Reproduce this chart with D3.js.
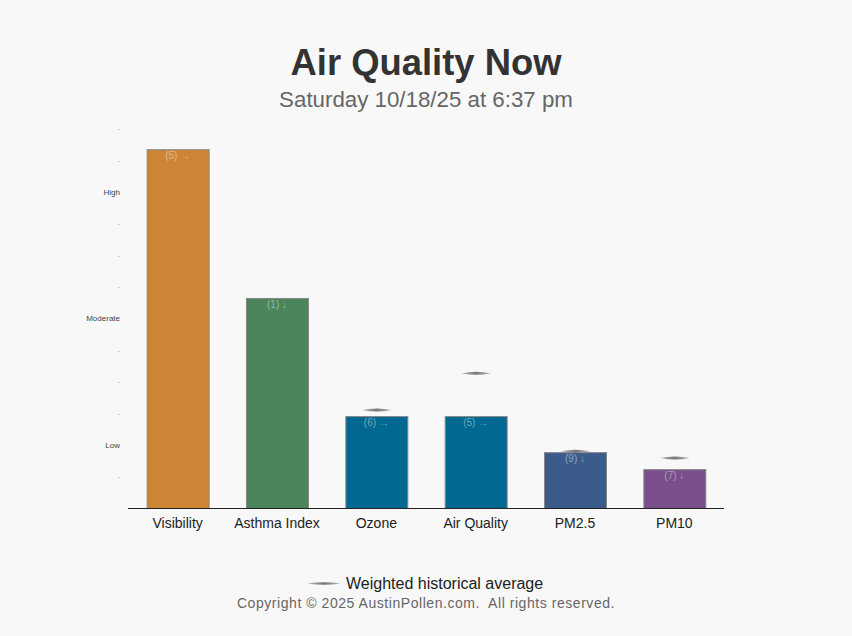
<!DOCTYPE html>
<html><head><meta charset="utf-8">
<script src="https://cdn.jsdelivr.net/npm/d3@7"></script>
<style>
body{margin:0;background:#f8f8f8;font-family:"Liberation Sans",Arial,sans-serif;}
</style></head>
<body>
<svg id="chart" width="852" height="636"></svg>
<script>
const categories = ["Visibility","Asthma Index","Ozone","Air Quality","PM2.5","PM10"];
const values = [11.36, 6.65, 2.91, 2.91, 1.77, 1.23];
const historical = [null, null, 3.10, 4.27, 1.80, 1.58];
const barLabels = ["(5) →","(1) ↓","(6) →","(5) →","(9) ↓","(7) ↓"];
const colors = ["#cd8535","#4b855c","#006891","#006891","#3b5c8a","#7a4e8a"];
const tickValues = [1,2,3,4,5,6,7,8,9,10,11,12];
const tickLabels = {2:"Low",6:"Moderate",10:"High"};

const svg = d3.select("#chart");
const W = 852;
svg.append("rect").attr("width",852).attr("height",636).attr("fill","#f8f8f8");

svg.append("text").attr("x",W/2).attr("y",75).attr("text-anchor","middle")
  .attr("font-size",36.4).attr("font-weight","bold").attr("fill","#333").text("Air Quality Now");
svg.append("text").attr("x",W/2).attr("y",107).attr("text-anchor","middle")
  .attr("font-size",22.3).attr("fill","#666").text("Saturday 10/18/25 at 6:37 pm");

const x = d3.scaleBand().domain(categories).range([128,724]).paddingInner(0.376).paddingOuter(0.188);
const y = d3.scaleLinear().domain([0,12]).range([508,129]);

// y axis labels
const yg = svg.append("g");
yg.selectAll("text").data(tickValues).join("text")
  .attr("x",120).attr("y",d=>y(d)).attr("dy","0.35em").attr("text-anchor","end")
  .attr("font-size",d=>tickLabels[d]?8:7).attr("fill",d=>tickLabels[d]?"#444":"#aaa")
  .text(d=>tickLabels[d]||"-");

// bars
svg.selectAll("rect.bar").data(categories).join("rect").attr("class","bar")
  .attr("x",d=>x(d)+0.5).attr("width",x.bandwidth())
  .attr("y",(d,i)=>y(values[i])+0.5).attr("height",(d,i)=>y(0)-y(values[i]))
  .attr("fill",(d,i)=>colors[i]).attr("stroke","#888").attr("stroke-width",1);

svg.selectAll("text.blabel").data(categories).join("text").attr("class","blabel")
  .attr("x",d=>x(d)+x.bandwidth()/2).attr("y",(d,i)=>y(values[i])+10)
  .attr("text-anchor","middle").attr("font-size",10).attr("fill","#ffffff").attr("fill-opacity",0.45)
  .text((d,i)=>barLabels[i]);

// x axis
const xAxis = d3.axisBottom(x).tickSize(0).tickPadding(10);
const xg = svg.append("g").attr("transform","translate(0,508.5)").call(xAxis);
xg.select(".domain").attr("stroke","#222").attr("d","M128,0H724");
xg.selectAll("text").attr("font-size",14).attr("fill","#222").attr("font-family","Liberation Sans, Arial, sans-serif");

// historical marks: lens shape
const defs = svg.append("defs");
const lg = defs.append("linearGradient").attr("id","lens");
lg.append("stop").attr("offset","0").attr("stop-color","#bbb");
lg.append("stop").attr("offset","0.5").attr("stop-color","#777");
lg.append("stop").attr("offset","1").attr("stop-color","#bbb");
function lens(cx,cy,w,h){
  return `M${cx-w/2},${cy} Q${cx},${cy-h} ${cx+w/2},${cy} Q${cx},${cy+h} ${cx-w/2},${cy}Z`;
}
svg.selectAll("path.hist").data(categories.filter((d,i)=>historical[i]!=null)).join("path").attr("class","hist")
  .attr("d",d=>{const i=categories.indexOf(d);return lens(x(d)+x.bandwidth()/2+0.5,y(historical[i]),30,3);})
  .attr("fill","url(#lens)");

// legend
svg.append("path").attr("d",lens(324,583.5,34,2.4)).attr("fill","url(#lens)");
svg.append("text").attr("x",346).attr("y",589).attr("font-size",16).attr("fill","#222").text("Weighted historical average");
svg.append("text").attr("x",W/2).attr("y",608).attr("text-anchor","middle").attr("font-size",14)
  .attr("fill","#666").attr("letter-spacing","0.55").style("white-space","pre")
  .text("Copyright © 2025 AustinPollen.com.  All rights reserved.");
</script>
</body></html>
